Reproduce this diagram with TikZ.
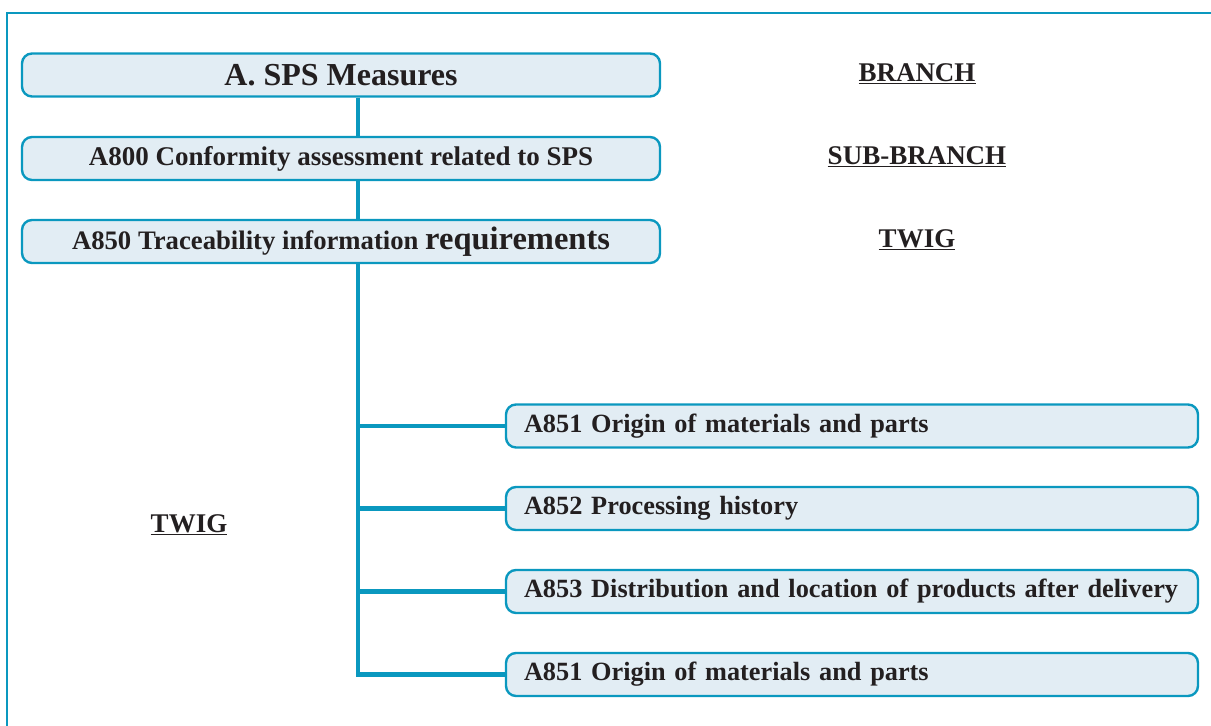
\documentclass[tikz,border=0pt]{standalone}
\usepackage{fontspec}
\setmainfont{Liberation Serif}
\usetikzlibrary{backgrounds}
\definecolor{frameblue}{HTML}{0A98BF}
\definecolor{boxfill}{HTML}{E2EDF4}
\definecolor{ink}{HTML}{231F20}
\tikzset{
  x=1pt, y=1pt,
  levelbox/.style={draw=frameblue, line width=2.4pt, fill=boxfill, rounded corners=10pt,
    minimum width=638pt, minimum height=43pt, inner sep=0pt, text=ink, font=\bfseries},
  twigbox/.style={draw=frameblue, line width=2.4pt, fill=boxfill, rounded corners=10pt,
    minimum width=692pt, minimum height=43pt, inner sep=0pt, text=ink,
    font=\fontsize{26.3}{30}\selectfont\bfseries, text width=656pt, align=left},
  tag/.style={text=ink, font=\fontsize{27}{30}\selectfont\bfseries, inner sep=0pt},
  link/.style={draw=frameblue, line width=4.6pt},
}
\newcommand{\ul}[1]{\underline{#1}}
\begin{document}
\begin{tikzpicture}
\useasboundingbox (0,0) rectangle (1211,726);
% outer frame, only its top and left edges are in view
\draw[frameblue, line width=2.6pt] (7,-5) -- (7,713) -- (1216,713);

% main hierarchy
\node[levelbox, font=\fontsize{32}{36}\selectfont\bfseries] (sps) at (341,651) {A. SPS Measures};
\node[levelbox, font=\fontsize{27}{30}\selectfont\bfseries] (a800) at (341,567.5) {A800 Conformity assessment related to SPS};
\node[levelbox, font=\fontsize{26.7}{30}\selectfont\bfseries] (a850) at (341,484.5) {A850 Traceability information {\fontsize{32.5}{36}\selectfont requirements}};

% twigs
\node[twigbox] (a851) at (852,300) {A851 Origin of materials and parts};
\node[twigbox] (a852) at (852,217.5) {A852 Processing history};
\node[twigbox] (a853) at (852,134.5) {A853 Distribution and location of products after delivery};
\node[twigbox] (a851b) at (852,51.5) {A851 Origin of materials and parts};

% level labels
\node[tag] (lbranch) at (917,652) {\ul{BRANCH}};
\node[tag] (lsub) at (917,569) {\ul{SUB-BRANCH}};
\node[tag] (ltwig) at (917,486) {\ul{TWIG}};
\node[tag] (ltwig2) at (189,201) {\ul{TWIG}};

% connectors, drawn behind the boxes
\coordinate (trunk) at (358,0);
\begin{pgfonlayer}{background}
\draw[link] (sps.south -| trunk) -- (a800.north -| trunk);
\draw[link] (a800.south -| trunk) -- (a850.north -| trunk);
\draw[link, line join=miter] (a850.south -| trunk) -- (trunk |- a851b.west) -- (a851b.west);
\draw[link] (trunk |- a851.west) -- (a851.west);
\draw[link] (trunk |- a852.west) -- (a852.west);
\draw[link] (trunk |- a853.west) -- (a853.west);
\end{pgfonlayer}
\end{tikzpicture}
\end{document}
